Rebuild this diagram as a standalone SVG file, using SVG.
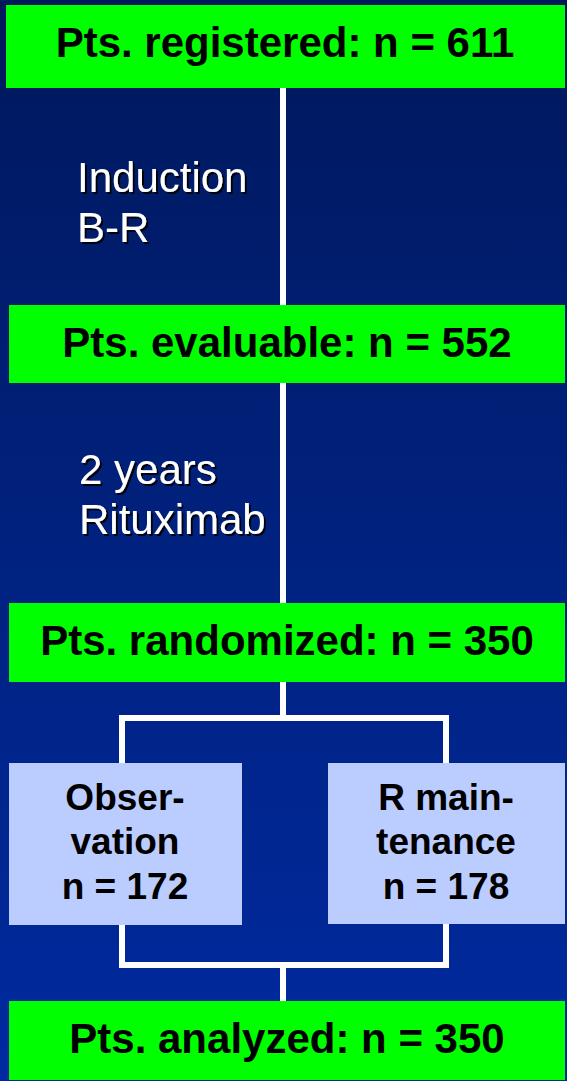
<svg xmlns="http://www.w3.org/2000/svg" width="567" height="1081" viewBox="0 0 567 1081">
  <defs>
    <linearGradient id="bg" x1="0" y1="0" x2="0" y2="1">
      <stop offset="0" stop-color="#00185c"/>
      <stop offset="1" stop-color="#002aa0"/>
    </linearGradient>
    <filter id="shadow" x="-10%" y="-20%" width="130%" height="150%">
      <feDropShadow dx="2" dy="2" stdDeviation="0.6" flood-color="#000000" flood-opacity="0.9"/>
    </filter>
    <style>
      .stage { fill: #00ff00; }
      .arm { fill: #bbccff; }
      .stage-text { font-family: "Liberation Sans", Arial, sans-serif; font-weight: bold; font-size: 42px; fill: #000000; text-anchor: middle; }
      .arm-text { font-family: "Liberation Sans", Arial, sans-serif; font-weight: bold; font-size: 37px; fill: #000000; text-anchor: middle; }
      .step-text { font-family: "Liberation Sans", Arial, sans-serif; font-size: 42px; fill: #ffffff; filter: url(#shadow); }
      .link { fill: none; stroke: #ffffff; stroke-width: 6; }
    </style>
  </defs>

  <rect x="0" y="0" width="567" height="1081" fill="url(#bg)"/>

  <!-- connectors -->
  <g id="connectors">
    <line class="link" x1="283" y1="87" x2="283" y2="306"/>
    <line class="link" x1="283" y1="382" x2="283" y2="604"/>
    <line class="link" x1="283" y1="681" x2="283" y2="718"/>
    <polyline class="link" points="122,764 122,718 446,718 446,764"/>
    <polyline class="link" points="122,924 122,965 446,965 446,924"/>
    <line class="link" x1="283" y1="965" x2="283" y2="1002"/>
  </g>

  <!-- step labels between stages -->
  <g id="step-induction">
    <text class="step-text" x="77" y="192">Induction</text>
    <text class="step-text" x="77" y="242">B-R</text>
  </g>
  <g id="step-rituximab">
    <text class="step-text" x="79" y="484">2 years</text>
    <text class="step-text" x="79" y="534">Rituximab</text>
  </g>

  <g id="registered">
    <rect class="stage" x="6" y="5" width="559" height="83"/>
    <text class="stage-text" x="285" y="57">Pts. registered: n = 611</text>
  </g>

  <g id="evaluable">
    <rect class="stage" x="9" y="305" width="556" height="78"/>
    <text class="stage-text" x="287" y="357">Pts. evaluable: n = 552</text>
  </g>

  <g id="randomized">
    <rect class="stage" x="9" y="603" width="556" height="79"/>
    <text class="stage-text" x="287" y="655">Pts. randomized: n = 350</text>
  </g>

  <g id="observation">
    <rect class="arm" x="9" y="763" width="233" height="162"/>
    <text class="arm-text" x="125" y="810">Obser-</text>
    <text class="arm-text" x="125" y="854">vation</text>
    <text class="arm-text" x="125" y="899">n = 172</text>
  </g>

  <g id="maintenance">
    <rect class="arm" x="328" y="763" width="237" height="161"/>
    <text class="arm-text" x="446" y="810">R main-</text>
    <text class="arm-text" x="446" y="854">tenance</text>
    <text class="arm-text" x="446" y="899">n = 178</text>
  </g>

  <g id="analyzed">
    <rect class="stage" x="9" y="1001" width="556" height="79"/>
    <text class="stage-text" x="287" y="1053">Pts. analyzed: n = 350</text>
  </g>
</svg>
